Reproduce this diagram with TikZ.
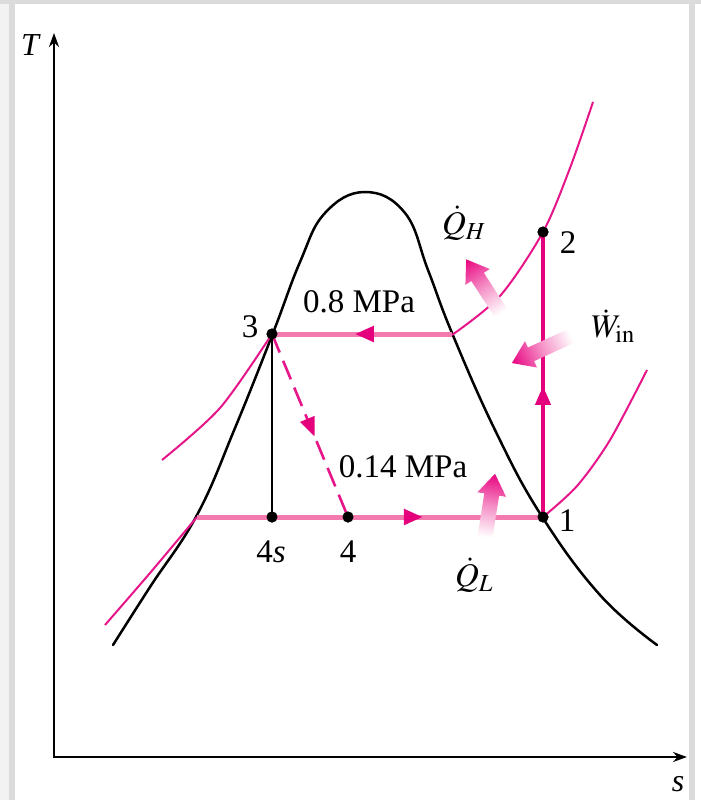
\documentclass[tikz,border=0pt]{standalone}
\usepackage{mathptmx}
\usepackage{fontspec}
\setmainfont{Liberation Serif}
\usetikzlibrary{calc,arrows.meta,decorations.markings}
\definecolor{magT}{HTML}{E6168A}
\definecolor{magP}{HTML}{F27AAE}
\definecolor{magD}{HTML}{E4007C}
\definecolor{fatP}{HTML}{E8037F}
\newcommand\fatarrow[3]{% #1 tail, #2 angle, #3 length
  \begin{scope}[transform canvas={shift={(#1)},rotate=#2}]
    \shade[left color=white, right color=fatP, middle color=fatP!45]
      (0,7.5) -- (#3-21,7.5) -- (#3-21,14.5) -- (#3,0) -- (#3-21,-14.5) -- (#3-21,-7.5) -- (0,-7.5) -- cycle;
  \end{scope}}
\begin{document}
\begin{tikzpicture}[x=1pt,y=-1pt,
  dot/.style={circle,fill=black,inner sep=0pt,minimum size=11pt},
  lbl/.style={inner sep=0pt,font=\fontsize{33}{35}\selectfont},
  thinmag/.style={magT,line width=2pt},
  thickpink/.style={magP,line width=5pt},
  midarrow/.style={postaction={decorate,decoration={markings,
     mark=at position #1 with {\arrow{Triangle[length=19pt,width=15pt,color=magD]}}}}},
  dome/.style={black,line width=2.5pt,line cap=round}]
\useasboundingbox (0,0) rectangle (701,800);
\fill[white] (0,0) rectangle (701,800);
\fill[gray!10] (0,0) rectangle (9,800);
\fill[gray!28] (9,0) rectangle (15,800);
\fill[gray!28] (0,0) rectangle (701,4);
\fill[gray!28] (689,0) rectangle (695,800);

% axes
\coordinate (O) at (54,757);
\coordinate (Ty) at (54,33);
\coordinate (Sx) at (687,757);
\draw[line width=2.4pt,{Stealth[length=14pt,width=10pt]}-{Stealth[length=14pt,width=10pt]}] (Ty) -- (O) -- (Sx);
\node[lbl,font=\fontsize{32}{34}\selectfont\itshape] (Tlab) at (30,45) {T};
\node[lbl,font=\fontsize{32}{34}\selectfont\itshape] (slab) at (678,784) {s};

% saturation dome
\draw[dome] plot[smooth,tension=0.7] coordinates {(113,645) (150,587) (197,515) (235,428) (273,333) (300,262) (325,213) (365,192) (405,213) (428,270) (452,333) (495,430) (541,515) (600,595) (657,645)};

% state points
\node[dot] (p1) at (543,517) {};
\node[dot] (p2) at (543,232) {};
\node[dot] (p3) at (272,334) {};
\node[dot] (p4s) at (272,517) {};
\node[dot] (p4) at (348,517) {};
\coordinate (g) at (452,334);
\coordinate (f) at (197,517);

% isobars
\draw[thinmag] plot[smooth] coordinates {(162,460) (220,408) (272,334)};
\draw[thinmag] plot[smooth] coordinates {(452,335) (500,296) (543,232) (570,168) (593,102)};
\draw[thinmag] plot[smooth] coordinates {(105,625) (150,573) (197,517)};
\draw[thinmag] plot[smooth] coordinates {(543,517) (577,486) (610,440) (647,370)};

% process lines
\draw[thickpink,midarrow=0.54] (g) -- (p3.center);
\draw[thickpink,midarrow=0.653] (f) -- (p1.center);
\draw[magD,line width=4pt,midarrow=0.46] (p1.center) -- (p2.center);
\draw[magT,line width=2.6pt,dash pattern=on 20pt off 9pt,midarrow=0.56] (p3.center) -- (p4.center);
\draw[black,line width=2.5pt] (p3.center) -- (p4s.center);

% redraw dots on top
\foreach \p in {p1,p2,p3,p4s,p4} \fill (\p) circle (5.5pt);

% heat / work arrows
\coordinate (qhT) at (501,313);
\coordinate (wT) at (571,336);
\coordinate (qlT) at (485,537);
\fatarrow{qhT}{123}{64}
\fatarrow{wT}{204.6}{65}
\fatarrow{qlT}{81}{64}

% labels
\node[lbl] (l1) at (567,521) {1};
\node[lbl] (l2) at (568,243) {2};
\node[lbl] (l3) at (250,327) {3};
\node[lbl] (l4s) at (271,552) {4\textit{s}};
\node[lbl] (l4) at (348,552) {4};
\node[lbl] (pH) at (359,302) {0.8 MPa};
\node[lbl] (pL) at (403,467) {0.14 MPa};
\node[lbl] (QH) at (464,223) {$\dot{Q}_H$};
\node[lbl] (Win) at (613,326) {$\dot{W}_{\mathrm{in}}$};
\node[lbl] (QL) at (474,575) {$\dot{Q}_L$};
\end{tikzpicture}
\end{document}
